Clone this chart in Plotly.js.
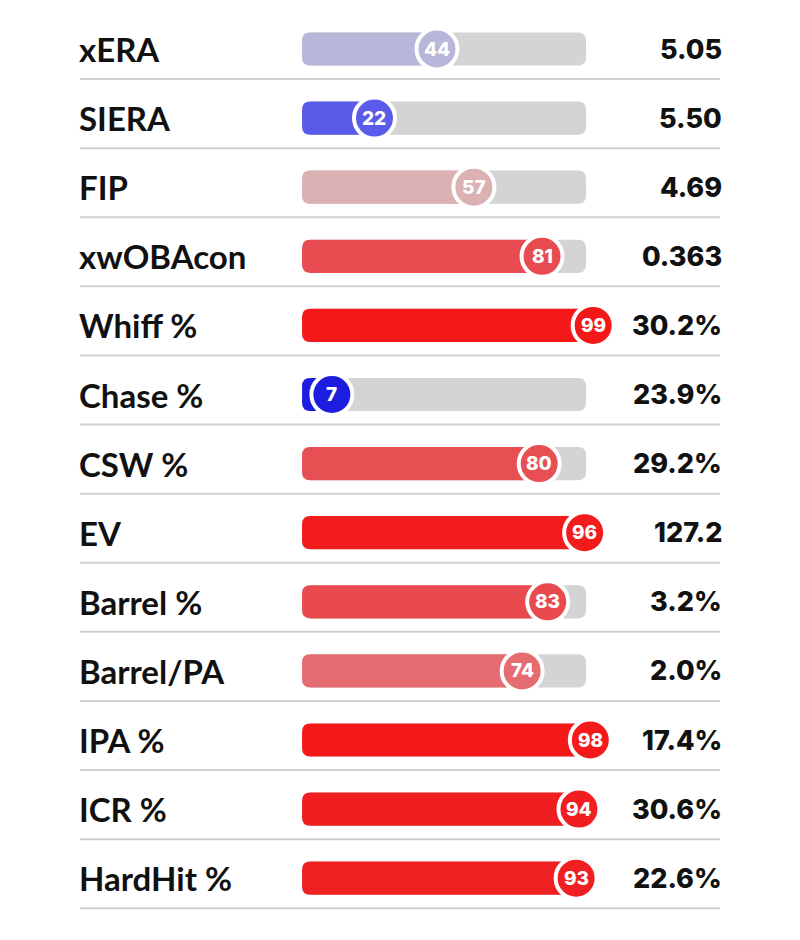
<!DOCTYPE html>
<html>
<head>
<meta charset="utf-8">
<script src="https://cdn.plot.ly/plotly-3.0.1.min.js"></script>
<style>html,body{margin:0;padding:0;background:#fff;}#chart{width:800px;height:940px;}</style>
</head>
<body>
<div id="chart"></div>
<script>
// ---- data ----
const metrics = ["xERA","SIERA","FIP","xwOBAcon","Whiff %","Chase %","CSW %","EV","Barrel %","Barrel/PA","IPA %","ICR %","HardHit %"];
const percentiles = [44,22,57,81,99,7,80,96,83,74,98,94,93];
const statValues = ["5.05","5.50","4.69","0.363","30.2%","23.9%","29.2%","127.2","3.2%","2.0%","17.4%","30.6%","22.6%"];

// ---- style ----
const barColors = ["#b8b6d9","#5a5be8","#dbb1b4","#e84c50","#f41818","#1d1de0","#e84f53","#f21c1c","#e84a4e","#e56c70","#f41a1a","#f01e20","#ef2022"];
const TRACK_MIN = -3.5, TRACK_MAX = 96.5;   // track extent in percentile units
const BAR_H = 0.24;                          // half bar height in row units
const RX = 2.9, RY = 0.12;                   // corner radii in data units

function roundRect(x0, x1, yc, h, rx, ry) {
  const y0 = yc - h, y1 = yc + h;
  rx = Math.min(rx, (x1 - x0) / 2);
  return `M ${x0+rx},${y0} L ${x1-rx},${y0} Q ${x1},${y0} ${x1},${y0+ry} L ${x1},${y1-ry} Q ${x1},${y1} ${x1-rx},${y1} ` +
         `L ${x0+rx},${y1} Q ${x0},${y1} ${x0},${y1-ry} L ${x0},${y0+ry} Q ${x0},${y0} ${x0+rx},${y0} Z`;
}

const rows = metrics.map((_, i) => i);
const shapes = [];
const annotations = [];

metrics.forEach((m, i) => {
  shapes.push({type:"line", xref:"paper", yref:"y", x0:0.1, x1:0.9, y0:i+0.435, y1:i+0.435,
               line:{color:"#d0d0d0", width:2}, layer:"below"});
  shapes.push({type:"path", xref:"x", yref:"y", path: roundRect(TRACK_MIN, TRACK_MAX, i, BAR_H, RX, RY),
               fillcolor:"#d4d4d4", line:{width:0}, layer:"below"});
  shapes.push({type:"path", xref:"x", yref:"y", path: roundRect(TRACK_MIN, percentiles[i], i, BAR_H, RX, RY),
               fillcolor: barColors[i], line:{width:0}, layer:"below"});
  annotations.push({xref:"paper", yref:"y", x:0.096, y:i, xanchor:"left", yanchor:"middle", showarrow:false,
                    text:m, font:{family:"Lato, 'Noto Sans', sans-serif", size:33, color:"#111", weight:700}});
  annotations.push({xref:"paper", yref:"y", x:0.905, y:i, xanchor:"right", yanchor:"middle", showarrow:false,
                    text:statValues[i], font:{family:"Inter, 'Open Sans', sans-serif", size:27, color:"#111", weight:800}});
  annotations.push({xref:"x", yref:"y", x:percentiles[i], y:i, xanchor:"center", yanchor:"middle", showarrow:false,
                    text:String(percentiles[i]), font:{family:"Inter, 'Open Sans', sans-serif", size:19, color:"#ffffff", weight:800}});
});

const bubbles = {
  type:"scatter", mode:"markers", x: percentiles, y: rows,
  marker:{size:41, color: barColors, line:{color:"#ffffff", width:4}},
  hoverinfo:"skip", cliponaxis:false, showlegend:false
};

const xr = [(0-312)/2.84, (800-312)/2.84];
const yr = [(940-49)/69.1, (0-49)/69.1];

const layout = {
  width:800, height:940, margin:{l:0,r:0,t:0,b:0},
  paper_bgcolor:"#ffffff", plot_bgcolor:"#ffffff",
  xaxis:{range:xr, visible:false, fixedrange:true},
  yaxis:{range:yr, visible:false, fixedrange:true},
  shapes, annotations, showlegend:false
};

Plotly.newPlot("chart", [bubbles], layout, {displayModeBar:false, staticPlot:true});
</script>
</body>
</html>
